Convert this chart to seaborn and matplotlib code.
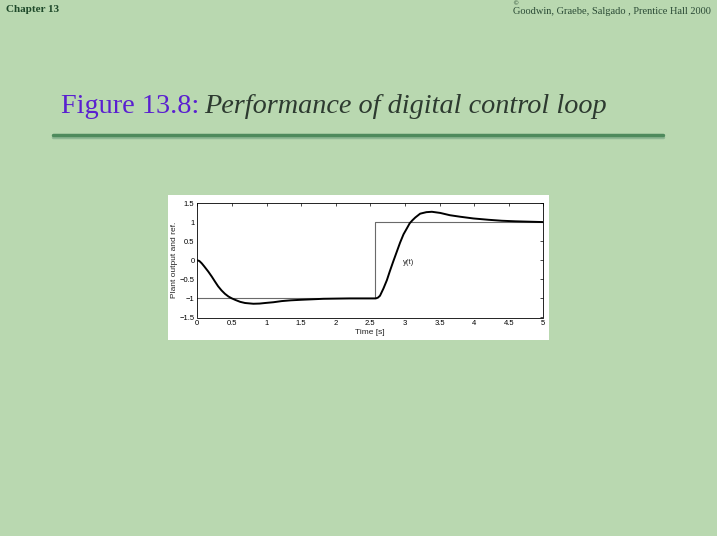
import numpy as np
import pandas as pd
import matplotlib
matplotlib.use("Agg")
import matplotlib.pyplot as plt
from matplotlib.patches import Rectangle
from matplotlib.lines import Line2D
import seaborn as sns

# plant output y(t)
time_s = [0, 0.03, 0.064, 0.1, 0.16, 0.21, 0.256, 0.3, 0.35, 0.4, 0.45, 0.5,
          0.55, 0.62, 0.69, 0.81, 0.9, 0.98, 1.1, 1.22, 1.35, 1.51, 1.7, 1.82,
          2.0, 2.2, 2.4, 2.58, 2.61, 2.64, 2.69, 2.74, 2.78, 2.83, 2.88, 2.93,
          2.98, 3.03, 3.07, 3.11, 3.15, 3.22, 3.31, 3.39, 3.51, 3.65, 3.80,
          3.99, 4.21, 4.4, 4.6, 4.8, 5.0]
plant_output = [0, -0.02, -0.08, -0.16, -0.30, -0.43, -0.56, -0.68, -0.79,
                -0.88, -0.95, -1.0, -1.04, -1.09, -1.12, -1.14, -1.135, -1.12,
                -1.10, -1.07, -1.05, -1.035, -1.02, -1.01, -1.005, -1.0, -1.0,
                -1.0, -0.98, -0.93, -0.74, -0.52, -0.30, -0.04, 0.21, 0.46,
                0.68, 0.84, 0.97, 1.05, 1.12, 1.22, 1.26, 1.27, 1.24, 1.18,
                1.14, 1.095, 1.06, 1.035, 1.02, 1.01, 1.0]

# reference signal (square step)
ref_time = [0, 2.57, 5.0]
ref_value = [-1, 1, 1]

x_ticks = [0, 0.5, 1, 1.5, 2, 2.5, 3, 3.5, 4, 4.5, 5]
x_labels = ["0", "0.5", "1", "1.5", "2", "2.5", "3", "3.5", "4", "4.5", "5"]
y_ticks = [-1.5, -1, -0.5, 0, 0.5, 1, 1.5]
y_labels = ["\u22121.5", "\u22121", "\u22120.5", "0", "0.5", "1", "1.5"]

sns.set_style("white")
plt.rcParams["font.family"] = ["Liberation Sans", "DejaVu Sans"]
plt.rcParams["xtick.direction"] = "in"
plt.rcParams["ytick.direction"] = "in"

W, H = 717, 536
fig = plt.figure(figsize=(W / 100, H / 100), dpi=100)
fig.patch.set_facecolor("#b9d8b0")

def fx(px):
    return px / W

def fy(py):
    return 1 - py / H

# header texts
fig.text(fx(6), fy(10), "Chapter 13", family="Liberation Serif", weight="bold",
         fontsize=8, color="#1f4a2a", va="center", ha="left")
fig.text(fx(711), fy(11), "Goodwin, Graebe, Salgado , Prentice Hall 2000",
         family="Liberation Serif", fontsize=7.5, color="#2a4a35",
         va="center", ha="right")
fig.text(fx(515), fy(4), "\u00a9", family="DejaVu Sans", fontsize=4.5,
         color="#2a4a35", va="center", ha="center")

# title in two parts
t1 = fig.text(fx(61), fy(113), "Figure 13.8:", family="Liberation Serif",
              fontsize=20.3, color="#5a1fd0", va="baseline", ha="left")
fig.canvas.draw()
bb = t1.get_window_extent(fig.canvas.get_renderer())
fig.text(bb.x1 / W + fx(5), fy(113), "Performance of digital control loop",
         family="Liberation Serif", style="italic", fontsize=20.3,
         color="#2d3a30", va="baseline", ha="left")

# rule under title
fig.add_artist(Line2D([fx(53), fx(663)], [fy(137), fy(137)], color="#8fb894",
                      lw=2.5, transform=fig.transFigure))
fig.add_artist(Line2D([fx(53), fx(663)], [fy(135), fy(135)], color="#4e8a5c",
                      lw=2.5, transform=fig.transFigure))

# white panel behind the plot
fig.add_artist(Rectangle((fx(168), fy(340)), fx(549) - fx(168), fy(195) - fy(340),
                         facecolor="white", edgecolor="none",
                         transform=fig.transFigure, zorder=0))

ax = fig.add_axes([fx(197.3), fy(317.5), fx(543.3) - fx(197.3), fy(203) - fy(317.5)])
ax.set_facecolor("white")

ref_df = pd.DataFrame({"t": ref_time, "r": ref_value})
out_df = pd.DataFrame({"t": time_s, "y": plant_output})
sns.lineplot(data=ref_df, x="t", y="r", ax=ax, color="#6a6a6a", lw=0.8,
             drawstyle="steps-post")
sns.lineplot(data=out_df, x="t", y="y", ax=ax, color="black", lw=1.4)

ax.set_xlim(0, 5)
ax.set_ylim(-1.5, 1.5)
ax.set_xticks(x_ticks)
ax.set_xticklabels(x_labels)
ax.set_yticks(y_ticks)
ax.set_yticklabels(y_labels)
ax.tick_params(labelsize=5.5, length=2.5, width=0.5, top=True, right=True,
               pad=2, colors="black")
for s in ax.spines.values():
    s.set_linewidth(0.6)
    s.set_color("black")
ax.set_xlabel("Time [s]", fontsize=6, labelpad=1)
ax.set_ylabel("Plant output and ref.", fontsize=6, labelpad=1)
ax.text(3.05, -0.07, "y(t)", fontsize=5.5, ha="center", va="center")

fig.savefig("out.png", dpi=100, facecolor=fig.get_facecolor())
